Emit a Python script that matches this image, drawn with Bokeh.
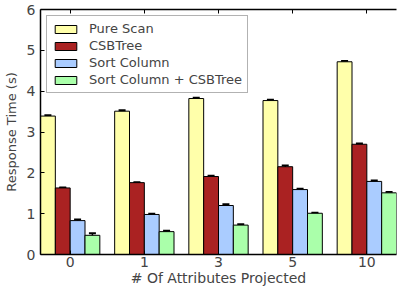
from bokeh.plotting import figure
from bokeh.models import ColumnDataSource, FixedTicker, Whisker, TeeHead, LinearAxis, Legend, LegendItem, Range1d
from bokeh.embed import file_html
from bokeh.resources import INLINE

categories = ["0", "1", "3", "5", "10"]
series_names = ["Pure Scan", "CSBTree", "Sort Column", "Sort Column + CSBTree"]
pure_scan = [3.39, 3.51, 3.82, 3.77, 4.72]
csbtree = [1.63, 1.76, 1.91, 2.15, 2.70]
sort_column = [0.83, 0.98, 1.20, 1.59, 1.79]
sort_csb = [0.47, 0.56, 0.72, 1.01, 1.51]
err_pure = [0.02, 0.02, 0.02, 0.02, 0.02]
err_csb = [0.01, 0.01, 0.02, 0.03, 0.02]
err_sort = [0.03, 0.02, 0.03, 0.02, 0.02]
err_sc = [0.05, 0.02, 0.02, 0.01, 0.02]
colors = ["#ffffaa", "#aa2222", "#aaccff", "#aaffaa"]
y_ticks = [0, 1, 2, 3, 4, 5, 6]

font = "DejaVu Sans"

p = figure(width=400, height=290, output_backend="svg", toolbar_location=None,
           x_range=Range1d(-0.4, 4.4), y_range=Range1d(0, 6),
           min_border_left=40, min_border_right=4, min_border_top=9, min_border_bottom=36)
p.xgrid.visible = False
p.ygrid.visible = False
p.outline_line_color = None
p.background_fill_color = "white"

offsets = [-0.3, -0.1, 0.1, 0.3]
all_vals = [pure_scan, csbtree, sort_column, sort_csb]
all_errs = [err_pure, err_csb, err_sort, err_sc]
items = []
for name, vals, errs, off, col in zip(series_names, all_vals, all_errs, offsets, colors):
    xs = [i + off for i in range(len(categories))]
    src = ColumnDataSource(dict(x=xs, top=vals,
                                lo=[v - e for v, e in zip(vals, errs)],
                                hi=[v + e for v, e in zip(vals, errs)]))
    r = p.vbar(x="x", top="top", bottom=0, width=0.2, source=src,
               fill_color=col, line_color="black", line_width=1)
    items.append(LegendItem(label=name, renderers=[r]))
    w = Whisker(base="x", lower="lo", upper="hi", source=src,
                line_color="black", line_width=1.5,
                upper_head=TeeHead(size=7, line_width=2, line_color="black"),
                lower_head=TeeHead(size=7, line_width=2, line_color="black"))
    p.add_layout(w)

legend = Legend(items=items, location="top_left", margin=6, padding=5, spacing=2,
                glyph_width=27, glyph_height=10, label_text_font=font,
                label_text_font_size="13px", label_standoff=10,
                border_line_color="#666666", border_line_width=1.5,
                background_fill_alpha=1)
p.add_layout(legend)

tick_pos = list(range(len(categories)))
xa = p.xaxis[0]
xa.ticker = FixedTicker(ticks=tick_pos)
xa.major_label_overrides = {i: c for i, c in enumerate(categories)}
xa.axis_label = "# Of Attributes Projected"
ya = p.yaxis[0]
ya.ticker = FixedTicker(ticks=y_ticks)
ya.axis_label = "Response Time (s)"
for ax in (xa, ya):
    ax.major_tick_in = 4
    ax.major_tick_out = 0
    ax.minor_tick_line_color = None
    ax.major_label_text_font = font
    ax.major_label_text_font_size = "14px"
    ax.axis_label_text_font = font
    ax.axis_label_text_font_size = "13px"
    ax.axis_label_text_font_style = "normal"
    ax.axis_line_width = 1.5
    ax.major_tick_line_width = 1
xa.axis_label_text_font_size = "14px"
xa.major_label_standoff = 2
xa.axis_label_standoff = 0
ya.major_label_standoff = 5
ya.axis_label_standoff = 5

top = LinearAxis(ticker=FixedTicker(ticks=tick_pos),
                 major_label_overrides={i: "" for i in tick_pos},
                 major_tick_in=4, major_tick_out=0, minor_tick_line_color=None,
                 axis_line_width=1.5, major_label_standoff=0)
p.add_layout(top, "above")

open("out.html", "w").write(file_html(p, INLINE))
